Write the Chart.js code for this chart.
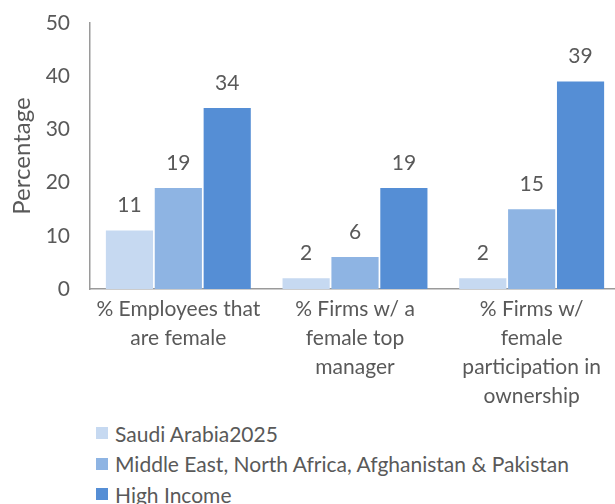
<!DOCTYPE html>
<html>
<head>
<meta charset="utf-8">
<script src="https://cdn.jsdelivr.net/npm/chart.js@4"></script>
<style>
  body { margin: 0; background: #fff; }
  #wrap { position: relative; width: 615px; height: 504px; overflow: hidden; }
  #legend { position: absolute; left: 96px; top: 418px; font-family: Lato, sans-serif; font-size: 21px; color: #595959; }
  .item { display: flex; align-items: center; height: 30.5px; white-space: nowrap; }
  .box { width: 12px; height: 12px; margin-right: 7px; }
</style>
</head>
<body>
<div id="wrap">
  <canvas id="myChart" width="620" height="415"></canvas>
  <div id="legend"></div>
</div>
<script>
const categories = [
  ['% Employees that', 'are female'],
  ['% Firms w/ a', 'female top', 'manager'],
  ['% Firms w/', 'female', 'participation in', 'ownership']
];
const seriesNames = ['Saudi Arabia2025', 'Middle East, North Africa, Afghanistan & Pakistan', 'High Income'];
const saudiValues = [11, 2, 2];
const menaValues = [19, 6, 15];
const highIncomeValues = [34, 19, 39];
const yTicks = [0, 10, 20, 30, 40, 50];
const colors = ['#C6D9F1', '#8EB4E3', '#558ED5'];

const fontFamily = 'Lato, sans-serif';
const textColor = '#595959';

const valueLabels = {
    id: 'valueLabels',
    afterDatasetsDraw(chart) {
        const ctx = chart.ctx;
        ctx.save();
        ctx.font = '21px ' + fontFamily;
        ctx.fillStyle = textColor;
        ctx.textAlign = 'center';
        ctx.textBaseline = 'middle';
        chart.data.datasets.forEach((ds, i) => {
            chart.getDatasetMeta(i).data.forEach((bar, j) => {
                ctx.fillText(ds.data[j], bar.x, bar.y - 25);
            });
        });
        ctx.restore();
    }
};

const values = [saudiValues, menaValues, highIncomeValues];
const ctx = document.getElementById('myChart').getContext('2d');
const chart = new Chart(ctx, {
    type: 'bar',
    data: {
        labels: categories,
        datasets: seriesNames.map((name, i) => ({
            label: name,
            data: values[i],
            backgroundColor: colors[i],
            categoryPercentage: 0.83,
            barPercentage: 0.965
        }))
    },
    options: {
        responsive: false,
        animation: false,
        layout: { padding: { top: 23, left: 0, right: 0, bottom: 0 } },
        plugins: {
            legend: { display: false },
            tooltip: { enabled: false }
        },
        scales: {
            y: {
                min: 0,
                max: 50,
                afterBuildTicks: (scale) => { scale.ticks = yTicks.map(v => ({ value: v })); },
                afterFit: (scale) => {
                    scale.width = 90;
                    // tick padding is only meant to push labels left, not down
                    scale.paddingTop = 12;
                    scale.paddingBottom = 12;
                },
                ticks: {
                    color: textColor,
                    font: { family: fontFamily, size: 21 },
                    padding: 20
                },
                grid: { display: false, drawTicks: false },
                border: { display: true, color: '#9a9a9a', width: 1.5 },
                title: {
                    display: true,
                    text: 'Percentage',
                    color: textColor,
                    font: { family: fontFamily, size: 24 },
                    padding: { top: 8, bottom: 0 }
                }
            },
            x: {
                afterFit: (scale) => { scale.height = 126; },
                ticks: {
                    color: textColor,
                    font: { family: fontFamily, size: 21, lineHeight: 1.38 },
                    padding: 6,
                    maxRotation: 0,
                    autoSkip: false
                },
                grid: { display: false, drawTicks: false },
                border: { display: true, color: '#9a9a9a', width: 1.5 }
            }
        }
    },
    plugins: [valueLabels]
});

const legend = document.getElementById('legend');
chart.data.datasets.forEach((ds) => {
    const item = document.createElement('div');
    item.className = 'item';
    const box = document.createElement('span');
    box.className = 'box';
    box.style.background = ds.backgroundColor;
    const txt = document.createElement('span');
    txt.textContent = ds.label;
    item.appendChild(box);
    item.appendChild(txt);
    legend.appendChild(item);
});
</script>
</body>
</html>
